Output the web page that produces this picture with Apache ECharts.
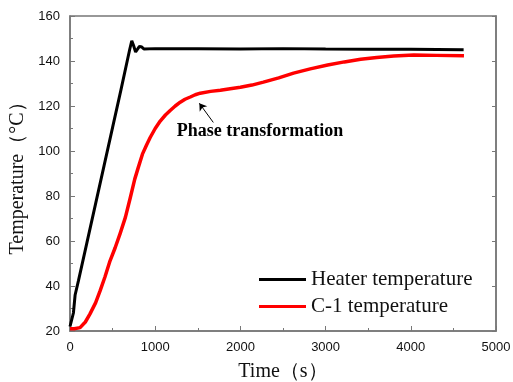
<!DOCTYPE html>
<html><head><meta charset="utf-8">
<script src="https://cdn.jsdelivr.net/npm/echarts@6/dist/echarts.min.js"></script>
<style>html,body{margin:0;padding:0;background:#fff}#c{width:513px;height:382px}</style>
</head><body><div id="c"></div>
<script>
var heaterTime = [0, 20, 40, 60, 100, 200, 300, 400, 500, 600, 700, 725, 745, 770, 792, 815, 843, 870, 1000, 1500, 2000, 2500, 3000, 3500, 4000, 4620];
var heaterTemp = [22, 22.5, 28, 36, 42.5, 59.5, 76.5, 93.5, 110.5, 127.5, 145, 149, 147, 144, 143.5, 146.5, 146.2, 145.3, 145.5, 145.4, 145.3, 145.5, 145.3, 145.2, 145.2, 145.0];
var c1Time = [0, 50, 118, 180, 235, 300, 353, 410, 470, 530, 588, 650, 706, 760, 800, 850, 900, 941, 1000, 1059, 1120, 1176, 1235, 1294, 1350, 1412, 1470, 1529, 1650, 1765, 1880, 2000, 2135, 2270, 2450, 2624, 2820, 3024, 3220, 3412, 3600, 3800, 4035, 4300, 4624];
var c1Temp = [21, 21, 21.5, 24, 27.6, 32.5, 37.8, 44, 51.2, 57, 63.3, 70.5, 79, 87.5, 92.5, 98.6, 102.8, 106, 110, 113.3, 116, 118, 120, 121.7, 123, 124, 125, 125.7, 126.5, 127, 127.7, 128.3, 129.3, 130.6, 132.5, 134.6, 136.5, 138.2, 139.6, 140.8, 141.6, 142.2, 142.7, 142.5, 142.3];
var xTicks = [0, 5000, 1000];
var yTicks = [20, 160, 20];
var seriesNames = ['Heater temperature', 'C-1 temperature'];
var annotationText = 'Phase transformation';
var arrowFrom = [1682, 112.7];
var arrowTo = [1518, 121.2];
var annotationAt = [2230, 108.8];

function zip(a, b) { return a.map(function (v, i) { return [v, b[i]]; }); }

var chart = echarts.init(document.getElementById('c'), null, {renderer: 'canvas'});
var axisCol = '#777';
var labelStyle = {color: '#111', fontSize: 13, fontFamily: 'Liberation Sans, Arial, sans-serif'};
chart.setOption({
  animation: false,
  backgroundColor: '#fff',
  grid: {left: 70, right: 17, top: 16, bottom: 51, show: true, borderColor: axisCol, borderWidth: 1.5,
    containLabel: false, outerBoundsMode: 'none'},
  legend: {
    orient: 'vertical', left: 254, top: 264, itemWidth: 47, itemHeight: 3, itemGap: 6,
    icon: 'rect',
    textStyle: {fontFamily: 'Liberation Serif, Times New Roman, serif', fontSize: 21, color: '#111'},
    data: seriesNames
  },
  xAxis: {
    type: 'value', min: xTicks[0], max: xTicks[1], interval: xTicks[2],
    name: 'Time（s）', nameLocation: 'middle', nameGap: 31,
    nameTextStyle: {fontFamily: 'Liberation Serif, Times New Roman, serif', fontSize: 20, color: '#111'},
    axisLine: {lineStyle: {color: axisCol, width: 1.5}},
    axisTick: {inside: true, length: 5, lineStyle: {color: axisCol}},
    minorTick: {show: true, splitNumber: 2, length: 3, lineStyle: {color: axisCol}},
    axisLabel: Object.assign({margin: 10, formatter: function (v) { return String(v); }}, labelStyle),
    splitLine: {show: false}
  },
  yAxis: [{
    type: 'value', min: yTicks[0], max: yTicks[1], interval: yTicks[2],
    name: 'Temperature（°C）', nameLocation: 'middle', nameGap: 41,
    nameTextStyle: {fontFamily: 'Liberation Serif, Times New Roman, serif', fontSize: 20, color: '#111'},
    axisLine: {lineStyle: {color: axisCol, width: 1.5}},
    axisTick: {inside: true, length: 5, lineStyle: {color: axisCol}},
    minorTick: {show: true, splitNumber: 2, length: 3, lineStyle: {color: axisCol}},
    axisLabel: Object.assign({margin: 10}, labelStyle),
    splitLine: {show: false}
  }, {
    type: 'value', position: 'right', min: yTicks[0], max: yTicks[1], interval: yTicks[2],
    axisLine: {show: true, lineStyle: {color: axisCol, width: 1.5}},
    axisTick: {inside: true, length: 4, lineStyle: {color: axisCol}},
    axisLabel: {show: false},
    splitLine: {show: false}
  }],
  series: [{
    name: seriesNames[0], type: 'line', showSymbol: false, color: '#000',
    lineStyle: {width: 3, color: '#000'},
    data: zip(heaterTime, heaterTemp), z: 3
  }, {
    name: seriesNames[1], type: 'line', showSymbol: false, color: '#ff0000',
    lineStyle: {width: 3.5, color: '#ff0000', join: 'round'},
    data: zip(c1Time, c1Temp), z: 2,
    markLine: {
      silent: true, symbol: ['none', 'arrow'], symbolSize: 7, label: {show: false},
      lineStyle: {color: '#000', width: 1, type: 'solid'},
      data: [[{coord: arrowFrom}, {coord: arrowTo}]]
    },
    markPoint: {
      silent: true, symbol: 'circle', symbolSize: 0,
      label: {show: true, position: 'inside', formatter: annotationText, color: '#000',
        fontFamily: 'Liberation Serif, Times New Roman, serif', fontWeight: 'bold', fontSize: 18},
      data: [{coord: annotationAt}]
    }
  }]
});
</script></body></html>
